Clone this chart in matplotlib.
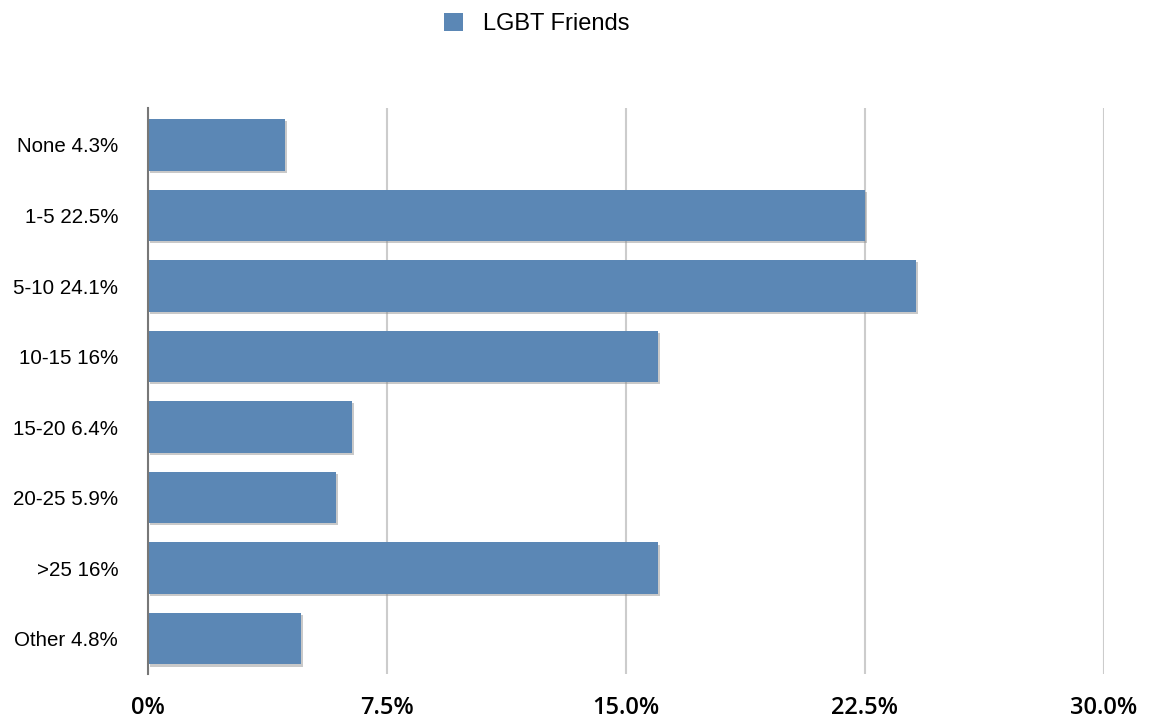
import matplotlib
matplotlib.use('Agg')
import matplotlib.pyplot as plt
import matplotlib.patheffects as pe
from matplotlib.patches import Patch

# Datos: porcentaje de encuestados por número de amigos LGBT
categorias = ['None', '1-5', '5-10', '10-15', '15-20', '20-25', '>25', 'Other']
valores = [4.3, 22.5, 24.1, 16, 6.4, 5.9, 16, 4.8]
ticks_x = [0, 7.5, 15.0, 22.5, 30.0]
etiquetas_x = ['0%', '7.5%', '15.0%', '22.5%', '30.0%']

color_barra = '#5b87b5'

fig = plt.figure(figsize=(11.5, 7.22), dpi=100)
ax = fig.add_axes([0.1287, 0.0665, 0.831, 0.7835])

posiciones = list(range(len(categorias)))
barras = ax.barh(posiciones, valores, height=0.73, color=color_barra, zorder=3)
for b in barras:
    b.set_path_effects([pe.SimplePatchShadow(offset=(1.5, -1.5), shadow_rgbFace='#888888', alpha=0.45),
                        pe.Normal()])

ax.set_xlim(0, 30)
ax.set_ylim(7.5, -0.52)

# Etiquetas del eje y con el valor incluido
etiquetas_y = [f'{c} {v:g}%' for c, v in zip(categorias, valores)]
ax.set_yticks(posiciones)
ax.set_yticklabels(etiquetas_y, fontsize=14.8, family='Liberation Sans')
ax.tick_params(axis='y', length=0, pad=21.5)

ax.set_xticks(ticks_x)
ax.set_xticklabels(etiquetas_x, fontsize=17, fontweight='semibold', family='Open Sans')
ax.tick_params(axis='x', length=0, pad=16)

# Rejilla vertical gris claro
ax.grid(axis='x', color='#cccccc', linewidth=1.5, zorder=0)
ax.grid(axis='y', visible=False)
for lado in ['top', 'right', 'bottom']:
    ax.spines[lado].set_visible(False)
ax.spines['left'].set_color('#777777')
ax.spines['left'].set_linewidth(1.5)
ax.spines['left'].set_zorder(4)

# Leyenda arriba
fig.legend(handles=[Patch(facecolor=color_barra, label='LGBT Friends')],
           loc='center', bbox_to_anchor=(0.4665, 0.967), frameon=False,
           prop={'family': 'Liberation Sans', 'size': 17},
           handlelength=0.8, handleheight=0.8, handletextpad=0.85)

plt.savefig('out.png', dpi=100)
